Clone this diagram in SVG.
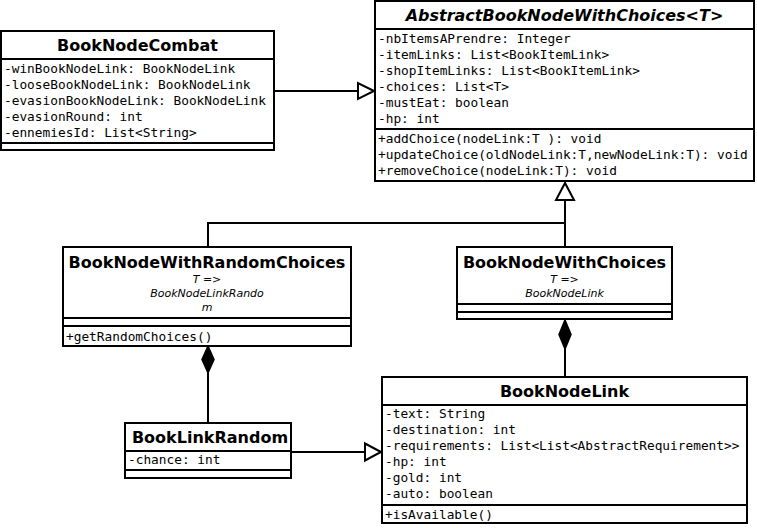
<svg xmlns="http://www.w3.org/2000/svg" width="757" height="528" viewBox="0 0 757 528">
<style>
.box{fill:#fff;stroke:#000;stroke-width:2}
.sep{stroke:#000;stroke-width:2}
.title{font-family:"DejaVu Sans",sans-serif;font-weight:bold;font-size:16px;text-anchor:middle;fill:#000}
.abs{font-style:italic}
.tp{font-family:"DejaVu Sans",sans-serif;font-style:italic;font-size:11px;text-anchor:middle;fill:#000}
.m{font-family:"DejaVu Sans Mono",monospace;font-size:12.8px;fill:#000}
.line{fill:none;stroke:#000;stroke-width:2}
.tri{fill:#fff;stroke:#000;stroke-width:2}
.dia{fill:#000;stroke:#000;stroke-width:1.5}
</style>
<rect width="757" height="528" fill="#fff"/>
<g id="connectors">
  <polyline class="line" points="274,91 358,91"/>
  <polygon class="tri" points="374,91 358,83 358,99"/>
  <polyline class="line" points="565,200 565,247"/>
  <polyline class="line" points="565,223 208,223 208,247"/>
  <polygon class="tri" points="565,183 556,200 574,200"/>
  <polyline class="line" points="208,373 208,423"/>
  <polygon class="dia" points="208,346 214,359.5 208,373 202,359.5"/>
  <polyline class="line" points="565,349 565,377"/>
  <polygon class="dia" points="565,320 571,334.5 565,349 559,334.5"/>
  <polyline class="line" points="291,452 365,452"/>
  <polygon class="tri" points="381,452 365,443.5 365,460.5"/>
</g>
<g id="BookNodeCombat">
  <rect class="box" x="1" y="31" width="273" height="119"/>
  <line class="sep" x1="1" y1="59" x2="274" y2="59"/>
  <line class="sep" x1="1" y1="143" x2="274" y2="143"/>
  <text class="title" x="137.5" y="51">BookNodeCombat</text>
  <text class="m" x="4" y="73">-winBookNodeLink: BookNodeLink</text>
  <text class="m" x="4" y="89">-looseBookNodeLink: BookNodeLink</text>
  <text class="m" x="4" y="105">-evasionBookNodeLink: BookNodeLink</text>
  <text class="m" x="4" y="121">-evasionRound: int</text>
  <text class="m" x="4" y="137">-ennemiesId: List&lt;String&gt;</text>
</g>
<g id="AbstractBookNodeWithChoices">
  <rect class="box" x="375" y="1" width="379" height="180"/>
  <line class="sep" x1="375" y1="29" x2="754" y2="29"/>
  <line class="sep" x1="375" y1="129" x2="754" y2="129"/>
  <text class="title abs" x="564.5" y="21">AbstractBookNodeWithChoices&lt;T&gt;</text>
  <text class="m" x="378" y="43">-nbItemsAPrendre: Integer</text>
  <text class="m" x="378" y="59">-itemLinks: List&lt;BookItemLink&gt;</text>
  <text class="m" x="378" y="75">-shopItemLinks: List&lt;BookItemLink&gt;</text>
  <text class="m" x="378" y="91">-choices: List&lt;T&gt;</text>
  <text class="m" x="378" y="107">-mustEat: boolean</text>
  <text class="m" x="378" y="123">-hp: int</text>
  <text class="m" x="378" y="143">+addChoice(nodeLink:T ): void</text>
  <text class="m" x="378" y="159">+updateChoice(oldNodeLink:T,newNodeLink:T): void</text>
  <text class="m" x="378" y="175">+removeChoice(nodeLink:T): void</text>
</g>
<g id="BookNodeWithRandomChoices">
  <rect class="box" x="63" y="247" width="288" height="99"/>
  <line class="sep" x1="63" y1="318" x2="351" y2="318"/>
  <line class="sep" x1="63" y1="326" x2="351" y2="326"/>
  <text class="title" x="207" y="268">BookNodeWithRandomChoices</text>
  <text class="tp" x="207" y="283">T =&gt;</text>
  <text class="tp" x="207" y="297">BookNodeLinkRando</text>
  <text class="tp" x="207" y="311">m</text>
  <text class="m" x="66" y="341">+getRandomChoices()</text>
</g>
<g id="BookNodeWithChoices">
  <rect class="box" x="457" y="247" width="215" height="72"/>
  <line class="sep" x1="457" y1="304" x2="672" y2="304"/>
  <line class="sep" x1="457" y1="312" x2="672" y2="312"/>
  <text class="title" x="564.5" y="268">BookNodeWithChoices</text>
  <text class="tp" x="564.5" y="283">T =&gt;</text>
  <text class="tp" x="564.5" y="297">BookNodeLink</text>
</g>
<g id="BookNodeLink">
  <rect class="box" x="382" y="377" width="365" height="146"/>
  <line class="sep" x1="382" y1="405" x2="747" y2="405"/>
  <line class="sep" x1="382" y1="505" x2="747" y2="505"/>
  <text class="title" x="564.5" y="397">BookNodeLink</text>
  <text class="m" x="385" y="418">-text: String</text>
  <text class="m" x="385" y="434">-destination: int</text>
  <text class="m" x="385" y="450">-requirements: List&lt;List&lt;AbstractRequirement&gt;&gt;</text>
  <text class="m" x="385" y="466">-hp: int</text>
  <text class="m" x="385" y="482">-gold: int</text>
  <text class="m" x="385" y="498">-auto: boolean</text>
  <text class="m" x="385" y="519">+isAvailable()</text>
</g>
<g id="BookLinkRandom">
  <rect class="box" x="125" y="423" width="166" height="55"/>
  <line class="sep" x1="125" y1="451" x2="291" y2="451"/>
  <line class="sep" x1="125" y1="470" x2="291" y2="470"/>
  <text class="title" x="210" y="443">BookLinkRandom</text>
  <text class="m" x="128" y="464">-chance: int</text>
</g>
</svg>
